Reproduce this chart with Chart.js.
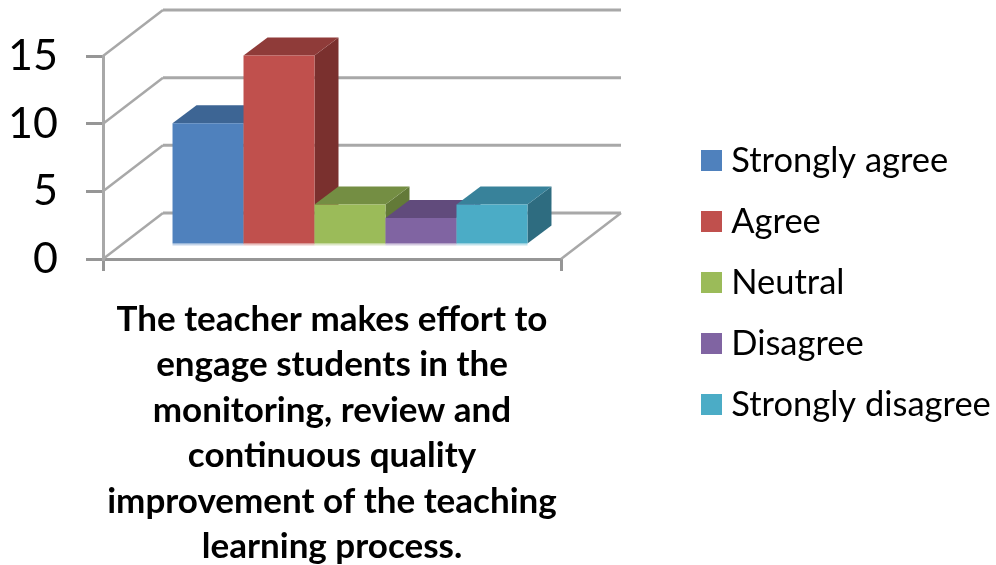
<!DOCTYPE html>
<html><head><meta charset="utf-8">
<style>html,body{margin:0;padding:0;background:#fff}#w{width:996px;height:565px}</style>
<script src="https://cdn.jsdelivr.net/npm/chart.js@4/dist/chart.umd.min.js"></script>
</head><body><div id="w"><canvas id="c" width="996" height="565"></canvas></div>
<script>
const categories = [["The teacher makes effort to","engage students in the","monitoring, review and","continuous quality","improvement of the teaching","learning process."]];
const seriesNames = ["Strongly agree","Agree","Neutral","Disagree","Strongly disagree"];
const seriesValues = [9,14,3,2,3];
const frontColors = ["#4F81BD","#C0504D","#9BBB59","#8064A2","#4BACC6"];
const topColors = ["#3D6594","#8F3B39","#748E43","#614B7C","#38829A"];
const sideColors = ["#335578","#7A302E","#637A38","#523F6A","#2E6C80"];
const yTicks = {min:0,max:15,step:5};
const GRID = "#a8a8a8", AXIS = "#969696";
const WALL = {dx:60,dy:-46}, FLOOR = {dx:18,dy:-14}, BAR = {dx:24,dy:-18};

const swatch = c => { const k=document.createElement('canvas'); k.width=k.height=21; const g=k.getContext('2d'); g.fillStyle=c; g.fillRect(0,0,21,21); return k; };

const threeD = { id:'threeD',
  beforeDatasetsDraw(chart){
    const {ctx,scales:{x,y}} = chart, a = chart.chartArea;
    ctx.save();
    ctx.lineCap='butt';
    y.ticks.forEach(t=>{
      const py=y.getPixelForValue(t.value);
      ctx.strokeStyle=GRID; ctx.lineWidth=2.5;
      ctx.beginPath(); ctx.moveTo(a.left,py); ctx.lineTo(a.left+WALL.dx,py+WALL.dy); ctx.stroke();
      ctx.lineWidth=3;
      ctx.beginPath(); ctx.moveTo(a.left+WALL.dx,py+WALL.dy); ctx.lineTo(a.right+WALL.dx,py+WALL.dy); ctx.stroke();
    });
    ctx.strokeStyle=GRID; ctx.lineWidth=2.5;
    ctx.beginPath(); ctx.moveTo(a.right,a.bottom); ctx.lineTo(a.right+WALL.dx,a.bottom+WALL.dy); ctx.stroke();
    ctx.translate(FLOOR.dx,FLOOR.dy);
    chart.data.datasets.forEach((ds,i)=>{
      const el=chart.getDatasetMeta(i).data[0];
      const l=el.x-el.width/2, r=el.x+el.width/2, t=el.y, b=el.base;
      ctx.fillStyle=sideColors[i];
      ctx.beginPath(); ctx.moveTo(r,t); ctx.lineTo(r+BAR.dx,t+BAR.dy); ctx.lineTo(r+BAR.dx,b+BAR.dy); ctx.lineTo(r,b); ctx.closePath(); ctx.fill();
      ctx.fillStyle=topColors[i];
      ctx.beginPath(); ctx.moveTo(l,t); ctx.lineTo(l+BAR.dx,t+BAR.dy); ctx.lineTo(r+BAR.dx,t+BAR.dy); ctx.lineTo(r,t); ctx.closePath(); ctx.fill();
      ctx.globalAlpha=.35; ctx.fillStyle=frontColors[i]; ctx.fillRect(l,b,el.width,2); ctx.globalAlpha=1;
      el.draw(ctx);
    });
    ctx.restore();
    return false;
  }
};

new Chart(document.getElementById('c'),{
  type:'bar',
  data:{labels:categories,datasets:seriesNames.map((n,i)=>({label:n,data:[seriesValues[i]],backgroundColor:frontColors[i],borderWidth:0,barPercentage:1,categoryPercentage:0.775}))},
  plugins:[threeD],
  options:{
    responsive:false,animation:false,
    layout:{padding:0},
    plugins:{
      tooltip:{enabled:false},
      legend:{position:'right',maxWidth:313,labels:{
        padding:26.5,usePointStyle:true,pointStyleWidth:4.5,color:'#000',
        font:{family:'Lato',size:34.5},
        generateLabels(chart){
          return Chart.defaults.plugins.legend.labels.generateLabels(chart).map((it,i)=>({...it,pointStyle:swatch(frontColors[i])}));
        }
      }}
    },
    scales:{
      x:{grid:{drawOnChartArea:false,tickLength:12,color:AXIS,lineWidth:3},border:{color:AXIS,width:3},
        ticks:{color:'#000',maxRotation:0,minRotation:0,autoSkip:false,padding:26,font:{family:'Lato',weight:'bold',size:35,lineHeight:45.4/35}},
        afterFit(s){s.height=306;}},
      y:{min:yTicks.min,max:yTicks.max,grid:{drawOnChartArea:false,tickLength:17,color:AXIS,lineWidth:3},border:{color:GRID,width:3},
        ticks:{stepSize:yTicks.step,color:'#000',padding:28,font:{family:'Lato',size:43}},
        afterFit(s){s.width=103;}},
      topGap:{type:'linear',axis:'x',position:'top',grid:{display:false},border:{display:false},ticks:{display:false},afterFit(s){s.height=56;}},
      rightGap:{type:'linear',axis:'y',position:'right',grid:{display:false},border:{display:false},ticks:{display:false},afterFit(s){s.width=122;}}
    }
  }
});
</script></body></html>
